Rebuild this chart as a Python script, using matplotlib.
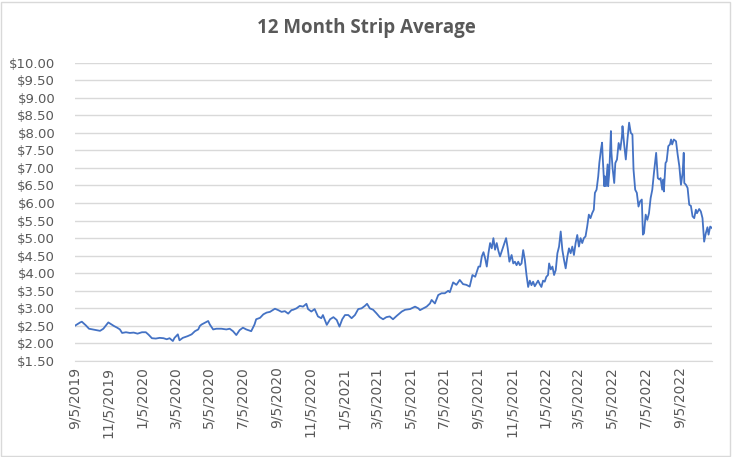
import matplotlib
matplotlib.use("Agg")
import matplotlib.pyplot as plt
from matplotlib.patches import Rectangle
import pandas as pd

# --- Daten ---
dates_2019 = ["2019-09-05", "2019-09-15", "2019-09-18", "2019-09-25", "2019-10-01", "2019-10-08",
              "2019-10-14", "2019-10-21", "2019-10-27", "2019-11-01", "2019-11-05", "2019-11-10",
              "2019-11-15", "2019-11-21", "2019-11-26", "2019-11-30", "2019-12-07", "2019-12-14",
              "2019-12-21", "2019-12-28"]
price_2019 = [2.50, 2.60, 2.62, 2.52, 2.42, 2.40,
              2.38, 2.36, 2.42, 2.52, 2.60, 2.55,
              2.50, 2.45, 2.40, 2.30, 2.32, 2.30,
              2.31, 2.28]

dates_2020 = ["2020-01-05", "2020-01-12", "2020-01-17", "2020-01-23", "2020-01-30", "2020-02-06",
              "2020-02-13", "2020-02-19", "2020-02-24", "2020-03-01", "2020-03-04", "2020-03-10",
              "2020-03-13", "2020-03-19", "2020-03-28", "2020-04-04", "2020-04-10", "2020-04-16",
              "2020-04-19", "2020-04-22", "2020-04-28", "2020-05-04", "2020-05-07", "2020-05-13",
              "2020-05-19", "2020-05-28", "2020-06-06", "2020-06-12", "2020-06-18", "2020-06-24",
              "2020-06-30", "2020-07-06", "2020-07-12", "2020-07-21", "2020-07-27", "2020-07-30",
              "2020-08-06", "2020-08-12", "2020-08-18", "2020-08-24", "2020-09-02", "2020-09-08",
              "2020-09-14", "2020-09-20", "2020-09-26", "2020-10-02", "2020-10-05", "2020-10-11",
              "2020-10-17", "2020-10-23", "2020-10-29", "2020-11-01", "2020-11-07", "2020-11-13",
              "2020-11-19", "2020-11-25", "2020-11-28", "2020-12-05", "2020-12-11", "2020-12-17",
              "2020-12-23", "2020-12-28"]
price_2020 = [2.32, 2.32, 2.25, 2.15, 2.14, 2.16,
              2.15, 2.12, 2.15, 2.07, 2.16, 2.26,
              2.09, 2.16, 2.21, 2.26, 2.35, 2.40,
              2.50, 2.54, 2.59, 2.64, 2.54, 2.40,
              2.42, 2.42, 2.40, 2.42, 2.35, 2.24,
              2.38, 2.45, 2.40, 2.35, 2.54, 2.69,
              2.73, 2.83, 2.88, 2.90, 2.99, 2.95,
              2.90, 2.92, 2.85, 2.95, 2.96, 3.00,
              3.07, 3.05, 3.13, 2.98, 2.91, 2.98,
              2.77, 2.72, 2.81, 2.53, 2.69, 2.75,
              2.67, 2.48]

dates_2021 = ["2021-01-02", "2021-01-07", "2021-01-13", "2021-01-19", "2021-01-25", "2021-01-31",
              "2021-02-06", "2021-02-12", "2021-02-16", "2021-02-21", "2021-02-27", "2021-03-05",
              "2021-03-11", "2021-03-17", "2021-03-23", "2021-03-29", "2021-04-04", "2021-04-11",
              "2021-04-20", "2021-04-26", "2021-05-05", "2021-05-14", "2021-05-20", "2021-05-23",
              "2021-05-29", "2021-06-04", "2021-06-10", "2021-06-13", "2021-06-19", "2021-06-25",
              "2021-07-01", "2021-07-07", "2021-07-13", "2021-07-16", "2021-07-22", "2021-07-28",
              "2021-08-03", "2021-08-09", "2021-08-15", "2021-08-21", "2021-08-26", "2021-08-31",
              "2021-09-06", "2021-09-09", "2021-09-12", "2021-09-15", "2021-09-18", "2021-09-21",
              "2021-09-24", "2021-09-27", "2021-09-30", "2021-10-03", "2021-10-06", "2021-10-09",
              "2021-10-12", "2021-10-15", "2021-10-18", "2021-10-21", "2021-10-26", "2021-10-29",
              "2021-11-01", "2021-11-05", "2021-11-08", "2021-11-11", "2021-11-14", "2021-11-17",
              "2021-11-20", "2021-11-23", "2021-11-26", "2021-11-29", "2021-12-02", "2021-12-05",
              "2021-12-08", "2021-12-11", "2021-12-14", "2021-12-17", "2021-12-20", "2021-12-23",
              "2021-12-26", "2021-12-29"]
price_2021 = [2.69, 2.81, 2.81, 2.72, 2.81, 2.98,
              3.00, 3.07, 3.13, 3.00, 2.96, 2.86,
              2.75, 2.69, 2.75, 2.77, 2.69, 2.79,
              2.91, 2.96, 2.98, 3.05, 3.00, 2.95,
              3.00, 3.05, 3.14, 3.24, 3.14, 3.38,
              3.43, 3.43, 3.50, 3.46, 3.74, 3.67,
              3.81, 3.69, 3.67, 3.62, 3.95, 3.90,
              4.19, 4.19, 4.48, 4.60, 4.43, 4.19,
              4.57, 4.86, 4.71, 5.00, 4.67, 4.86,
              4.64, 4.48, 4.62, 4.76, 5.00, 4.71,
              4.33, 4.52, 4.28, 4.33, 4.23, 4.33,
              4.23, 4.28, 4.66, 4.38, 3.95, 3.61,
              3.79, 3.66, 3.76, 3.63, 3.71, 3.79,
              3.69, 3.61]

dates_2022 = ["2022-01-01", "2022-01-04", "2022-01-07", "2022-01-10", "2022-01-12", "2022-01-15",
              "2022-01-18", "2022-01-21", "2022-01-24", "2022-01-27", "2022-01-30", "2022-02-02",
              "2022-02-05", "2022-02-08", "2022-02-11", "2022-02-14", "2022-02-17", "2022-02-20",
              "2022-02-23", "2022-02-26", "2022-03-01", "2022-03-04", "2022-03-07", "2022-03-10",
              "2022-03-13", "2022-03-16", "2022-03-19", "2022-03-22", "2022-03-25", "2022-03-28",
              "2022-03-31", "2022-04-03", "2022-04-05", "2022-04-08", "2022-04-11", "2022-04-13",
              "2022-04-16", "2022-04-18", "2022-04-19", "2022-04-22", "2022-04-23", "2022-04-25",
              "2022-04-28", "2022-04-29", "2022-05-01", "2022-05-04", "2022-05-05", "2022-05-07",
              "2022-05-10", "2022-05-12", "2022-05-15", "2022-05-18", "2022-05-21", "2022-05-24",
              "2022-05-25", "2022-05-28", "2022-05-31", "2022-06-03", "2022-06-06", "2022-06-09",
              "2022-06-12", "2022-06-14", "2022-06-17", "2022-06-20", "2022-06-23", "2022-06-26",
              "2022-06-29", "2022-07-01", "2022-07-03", "2022-07-06", "2022-07-09", "2022-07-12",
              "2022-07-15", "2022-07-18", "2022-07-21", "2022-07-25", "2022-07-28", "2022-07-31",
              "2022-08-02", "2022-08-05", "2022-08-07", "2022-08-08", "2022-08-11", "2022-08-13",
              "2022-08-16", "2022-08-19", "2022-08-21", "2022-08-23", "2022-08-26", "2022-08-30",
              "2022-09-02", "2022-09-05", "2022-09-08", "2022-09-11", "2022-09-13", "2022-09-14",
              "2022-09-17", "2022-09-20", "2022-09-23", "2022-09-26", "2022-09-29", "2022-10-02",
              "2022-10-05", "2022-10-07", "2022-10-11", "2022-10-14", "2022-10-17", "2022-10-20",
              "2022-10-23", "2022-10-26", "2022-10-28", "2022-10-31", "2022-11-03"]
price_2022 = [3.79, 3.76, 3.90, 3.95, 4.28, 4.11,
              4.19, 3.95, 4.09, 4.57, 4.76, 5.19,
              4.66, 4.38, 4.14, 4.47, 4.71, 4.57,
              4.76, 4.52, 4.86, 5.09, 4.76, 5.00,
              4.86, 5.00, 5.05, 5.33, 5.67, 5.57,
              5.71, 5.81, 6.29, 6.38, 6.76, 7.14,
              7.53, 7.72, 7.34, 6.48, 6.76, 6.48,
              7.10, 6.48, 6.86, 8.05, 7.43, 7.00,
              6.57, 7.14, 7.24, 7.71, 7.52, 7.90,
              8.19, 7.67, 7.24, 7.81, 8.29, 8.00,
              7.95, 6.95, 6.38, 6.29, 5.90, 6.05,
              6.10, 5.10, 5.14, 5.67, 5.52, 5.71,
              6.14, 6.38, 6.86, 7.43, 6.71, 6.67,
              6.71, 6.38, 6.67, 6.33, 7.14, 7.19,
              7.62, 7.67, 7.81, 7.67, 7.81, 7.76,
              7.38, 7.05, 6.52, 6.86, 7.43, 6.57,
              6.52, 6.43, 5.95, 5.92, 5.62, 5.57,
              5.81, 5.71, 5.83, 5.76, 5.57, 4.90,
              5.14, 5.31, 5.10, 5.33, 5.29]

tick_labels = ["9/5/2019", "11/5/2019", "1/5/2020", "3/5/2020", "5/5/2020", "7/5/2020",
               "9/5/2020", "11/5/2020", "1/5/2021", "3/5/2021", "5/5/2021", "7/5/2021",
               "9/5/2021", "11/5/2021", "1/5/2022", "3/5/2022", "5/5/2022", "7/5/2022",
               "9/5/2022"]

dates = pd.to_datetime(dates_2019 + dates_2020 + dates_2021 + dates_2022)
prices = price_2019 + price_2020 + price_2021 + price_2022
tick_dates = pd.to_datetime(tick_labels, format="%m/%d/%Y")

# --- Plot ---
grau = "#595959"
fig = plt.figure(figsize=(7.32, 4.57), dpi=100)
ax = fig.add_axes([0.102, 0.210, 0.8705, 0.653])

ax.plot(dates, prices, color="#4472C4", linewidth=1.3)

ax.set_ylim(1.5, 10.0)
ax.set_yticks([1.5 + 0.5 * i for i in range(18)])
ax.set_yticklabels(["${:.2f}".format(1.5 + 0.5 * i) for i in range(18)])
ax.set_xlim(dates[0], dates[-1])
ax.set_xticks(tick_dates)
ax.set_xticklabels(tick_labels, rotation=90)

ax.grid(axis="y", color="#D9D9D9", linewidth=1.0)
ax.set_axisbelow(True)
for s in ["top", "right", "left"]:
    ax.spines[s].set_visible(False)
ax.spines["bottom"].set_color("#D9D9D9")
ax.tick_params(axis="y", length=0, colors=grau, labelsize=9.5, pad=14)
ax.tick_params(axis="x", length=0, colors=grau, labelsize=10, pad=4)

fig.text(0.5, 0.938, "12 Month Strip Average", ha="center", va="center",
         fontsize=13.5, fontweight="bold", family="Open Sans", color=grau)

# Rahmen um das Diagramm
fig.patches.append(Rectangle((0.002, 0.003), 0.995, 0.993, transform=fig.transFigure,
                             fill=False, edgecolor="#D9D9D9", linewidth=1.0))

plt.savefig("out.png", dpi=100)
